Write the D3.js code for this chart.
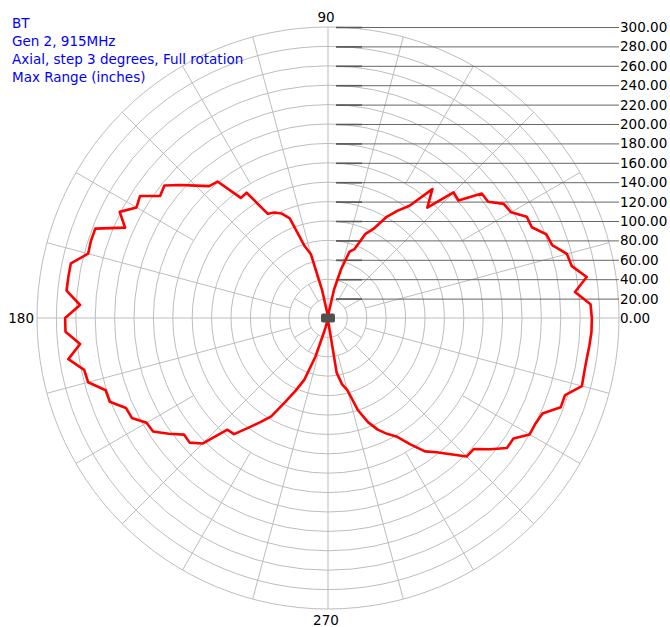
<!DOCTYPE html>
<html><head><meta charset="utf-8">
<script src="https://cdn.jsdelivr.net/npm/d3@7"></script>
<style>html,body{margin:0;padding:0;background:#fff;}svg{display:block;}</style>
</head><body>
<script>
// ---- data ----
const titleLines = ["BT", "Gen 2, 915MHz", "Axial, step 3 degrees, Full rotation", "Max Range (inches)"];
const angleStep = 3;
const rangeValues = [
  272,271,256,270,257,255,243,241,230,230, 218,216,204,204,181,183,153,171,143,132,
  120,103,95,76,72,52,30,8,3,2, 2,2,3,6,30,68,78,110,118,122,
  124,154,153,181,183,193,205,217,214,231, 228,241,229,257,257,256,271,271,271,256,
  271,271,257,271,257,256,241,241,228,227, 216,215,203,191,192,183,155,154,140,128,
  117,97,82,68,42,12,3,2,2,2, 2,2,6,57,70,77,100,115,126,134,
  141,155,170,178,189,202,202,215,228,228, 240,240,242,257,257,271,270,270,271,272
];
const radialTicks = [0,20,40,60,80,100,120,140,160,180,200,220,240,260,280,300];
const angleLabels = [{a:90,t:"90"},{a:180,t:"180"},{a:270,t:"270"}];

// ---- layout ----
const W = 670, H = 627, cx = 328, cy = 318;
const r = d3.scaleLinear().domain([0, 300]).range([0, 291]);
const toRad = d => d * Math.PI / 180;
const pt = (deg, v) => [cx + r(v) * Math.cos(toRad(deg)), cy - r(v) * Math.sin(toRad(deg))];

const svg = d3.select("body").append("svg").attr("width", W).attr("height", H);

// rings
svg.append("g").selectAll("circle").data(radialTicks.filter(d => d > 0)).join("circle")
  .attr("cx", cx).attr("cy", cy).attr("r", d => r(d))
  .attr("fill", "none").attr("stroke", "#bdbdbd").attr("stroke-width", 1);

// spoke segments: angle, from, to (in value units)
const spokes = [];
for (let a = 0; a < 360; a += 15) {
  if (a % 90 === 0) spokes.push({a, from: 0, to: 300});
  else if (a % 30 === 0) {
    spokes.push({a, from: 20, to: 40});
    spokes.push({a, from: 160, to: 300});
  } else spokes.push({a, from: 40, to: 300});
}
svg.append("g").selectAll("line").data(spokes).join("line")
  .attr("x1", d => pt(d.a, d.from)[0]).attr("y1", d => pt(d.a, d.from)[1])
  .attr("x2", d => pt(d.a, d.to)[0]).attr("y2", d => pt(d.a, d.to)[1])
  .attr("stroke", "#bdbdbd").attr("stroke-width", 1);

// right-side radial axis lines and labels
const ax = svg.append("g");
ax.selectAll("line.h").data(radialTicks.filter(d => d > 0)).join("line").attr("class", "h")
  .attr("x1", 336).attr("x2", 619)
  .attr("y1", d => cy - r(d) + 0.5).attr("y2", d => cy - r(d) + 0.5)
  .attr("stroke", "#666").attr("stroke-width", 1);
ax.selectAll("line.hd").data(radialTicks.filter(d => d > 0)).join("line").attr("class", "hd")
  .attr("x1", 336).attr("x2", 362)
  .attr("y1", d => cy - r(d) + 0.5).attr("y2", d => cy - r(d) + 0.5)
  .attr("stroke", "#5a5a5a").attr("stroke-width", 1.6);
ax.selectAll("text").data(radialTicks).join("text")
  .attr("x", 620).attr("y", d => cy - r(d) + 5)
  .attr("font-family", "DejaVu Sans").attr("font-size", 13.5).attr("fill", "#000")
  .text(d => d.toFixed(2));

// angle labels
svg.append("text").attr("x", 326).attr("y", 22).attr("text-anchor", "middle")
  .attr("font-family", "DejaVu Sans").attr("font-size", 13.5).text(angleLabels[0].t);
svg.append("text").attr("x", 34).attr("y", 323).attr("text-anchor", "end")
  .attr("font-family", "DejaVu Sans").attr("font-size", 13.5).text(angleLabels[1].t);
svg.append("text").attr("x", 326).attr("y", 625).attr("text-anchor", "middle")
  .attr("font-family", "DejaVu Sans").attr("font-size", 13.5).text(angleLabels[2].t);

// data line
const line = d3.lineRadial()
  .angle((d, i) => Math.PI / 2 - toRad(i * angleStep))
  .radius(d => r(d))
  .curve(d3.curveLinearClosed);
svg.append("path").datum(rangeValues)
  .attr("transform", `translate(${cx},${cy})`)
  .attr("d", line).attr("fill", "none").attr("stroke", "#ff0000")
  .attr("stroke-width", 2.6).attr("stroke-linejoin", "round");

// center hub
svg.append("rect").attr("x", cx - 7).attr("y", cy - 4.5).attr("width", 14).attr("height", 9)
  .attr("rx", 2).attr("fill", "#505050");

// title
svg.append("g").selectAll("text").data(titleLines).join("text")
  .attr("x", 12).attr("y", (d, i) => 28 + i * 18)
  .attr("font-family", "DejaVu Sans").attr("font-size", 13.5).attr("fill", "#0000ff")
  .text(d => d);
</script>
</body></html>
